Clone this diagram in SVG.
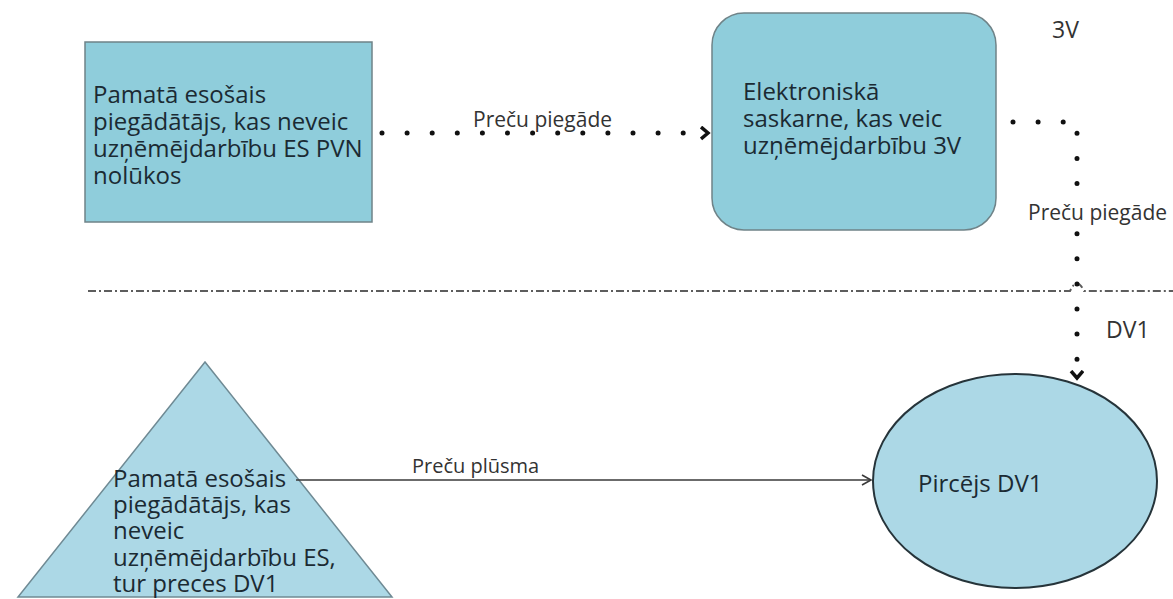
<svg xmlns="http://www.w3.org/2000/svg" width="1173" height="599" viewBox="0 0 1173 599">
  <style>
    .node-text { font-family: "Open Sans", "DejaVu Sans", sans-serif; font-size: 24px; fill: #1b2a33; }
    .label { font-family: "Open Sans", "DejaVu Sans", sans-serif; font-size: 21px; fill: #333; }
    .label-sm { font-family: "Open Sans", "DejaVu Sans", sans-serif; font-size: 20px; fill: #333; }
    .zone { font-family: "Open Sans", "DejaVu Sans", sans-serif; font-size: 23px; fill: #333; }
    .box { fill: #8fcddb; stroke: #6f8388; stroke-width: 1.5; }
    .soft { fill: #acd8e6; }
    .dotted { fill: none; stroke: #111; stroke-width: 5; stroke-linecap: round; stroke-dasharray: 0 25.1; }
    .solid { fill: none; stroke: #3a3a3a; stroke-width: 1.6; }
    .divider { fill: none; stroke: #5d5d5d; stroke-width: 2; stroke-dasharray: 8 3 2 3; }
  </style>
  <defs>
    <marker id="chevron" markerUnits="userSpaceOnUse" markerWidth="14" markerHeight="16" refX="8" refY="7" orient="auto">
      <path d="M1,1 L8,7 L1,13" fill="none" stroke="#111" stroke-width="3.5" stroke-linejoin="miter"/>
    </marker>
    <marker id="open" markerUnits="userSpaceOnUse" markerWidth="14" markerHeight="14" refX="10" refY="6" orient="auto">
      <path d="M1,1 L10,6 L1,11" fill="none" stroke="#3a3a3a" stroke-width="1.6"/>
    </marker>
  </defs>

  <!-- zone boundary with a hop where the delivery line crosses -->
  <path class="divider" d="M88 291 H1070 Q1077 276 1084 291 H1173"/>

  <g id="supplier-outside">
    <rect class="box" x="85" y="42" width="287" height="180"/>
    <text class="node-text">
      <tspan x="93" y="103">Pamatā esošais</tspan>
      <tspan x="93" y="130">piegādātājs, kas neveic</tspan>
      <tspan x="93" y="157">uzņēmējdarbību ES PVN</tspan>
      <tspan x="93" y="184">nolūkos</tspan>
    </text>
  </g>

  <g id="marketplace">
    <rect class="box" x="712" y="13" width="284" height="217" rx="32" ry="32"/>
    <text class="node-text">
      <tspan x="743" y="100">Elektroniskā</tspan>
      <tspan x="743" y="127">saskarne, kas veic</tspan>
      <tspan x="743" y="154">uzņēmējdarbību 3V</tspan>
    </text>
  </g>

  <g id="supplier-goods">
    <polygon class="soft" points="205,362 18,597 392,597" stroke="#6f8a94" stroke-width="1.5"/>
    <text class="node-text">
      <tspan x="113" y="487">Pamatā esošais</tspan>
      <tspan x="113" y="513">piegādātājs, kas</tspan>
      <tspan x="113" y="539">neveic</tspan>
      <tspan x="113" y="566">uzņēmējdarbību ES,</tspan>
      <tspan x="113" y="592">tur preces DV1</tspan>
    </text>
  </g>

  <g id="buyer">
    <ellipse class="soft" cx="1015" cy="481" rx="142" ry="107" stroke="#26343a" stroke-width="2"/>
    <text class="node-text" x="918" y="492">Pircējs DV1</text>
  </g>

  <g id="zone-labels">
    <text class="zone" x="1052" y="38">3V</text>
    <text class="zone" x="1106" y="338">DV1</text>
  </g>

  <g id="connectors">
    <path class="dotted" d="M382 133 H708" marker-end="url(#chevron)"/>
    <text class="label" x="473" y="127">Preču piegāde</text>

    <path class="dotted" d="M1013 122 H1077 V378" marker-end="url(#chevron)"/>
    <rect x="1030" y="202" width="140" height="22" fill="#fff"/>
    <text class="label" x="1028" y="220">Preču piegāde</text>

    <path class="solid" d="M296 480 H871" marker-end="url(#open)"/>
    <text class="label-sm" x="412" y="473">Preču plūsma</text>
  </g>
</svg>
